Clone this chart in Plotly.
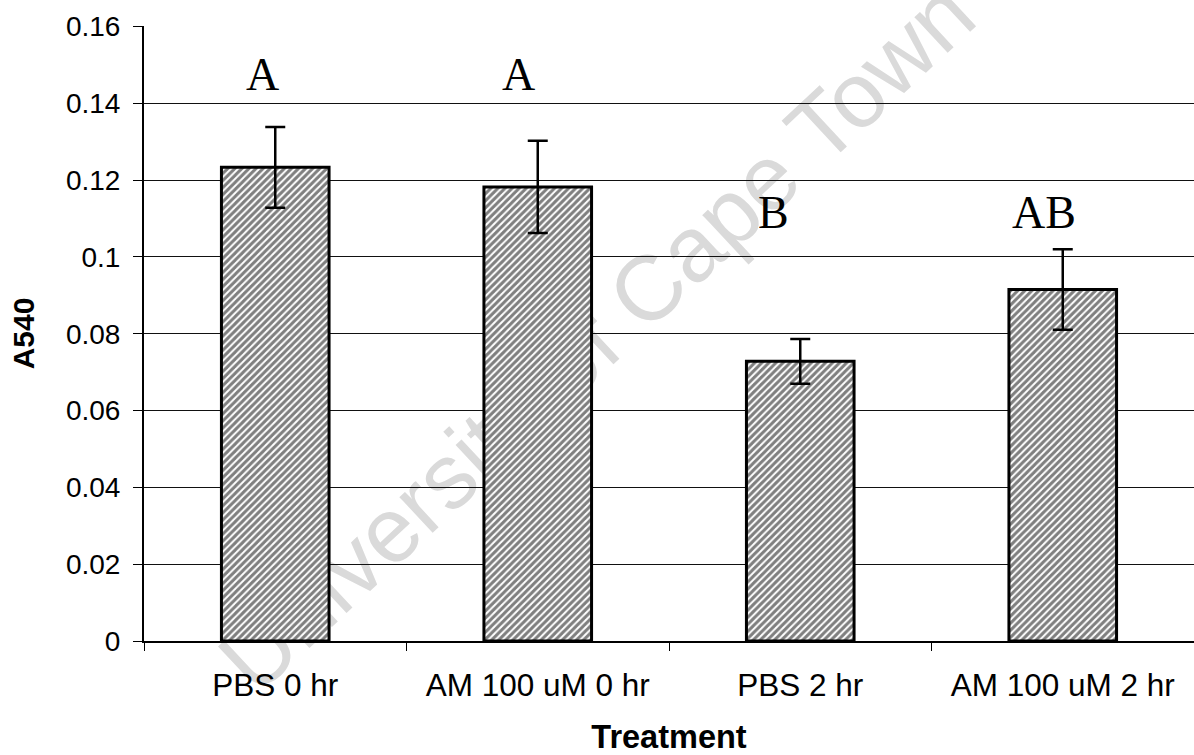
import plotly.graph_objects as go

# ---- data ----
categories = ["PBS 0 hr", "AM 100 uM 0 hr", "PBS 2 hr", "AM 100 uM 2 hr"]
a540_mean = [0.1233, 0.1182, 0.0728, 0.0915]
a540_err = [0.0105, 0.0120, 0.0058, 0.0105]
group_letters = ["A", "A", "B", "AB"]
letter_y = [0.1475, 0.1475, 0.1116, 0.1116]
y_ticks = [0, 0.02, 0.04, 0.06, 0.08, 0.10, 0.12, 0.14, 0.16]
y_tick_text = ["0", "0.02", "0.04", "0.06", "0.08", "0.1", "0.12", "0.14", "0.16"]
x_title = "Treatment"
y_title = "A540"
watermark = "University of Cape Town"

SANS = "Liberation Sans, Arial, Helvetica, sans-serif"
SERIF = "Liberation Serif, Times New Roman, serif"

fig = go.Figure(
    go.Bar(
        x=categories,
        y=a540_mean,
        width=0.41,
        marker=dict(
            color="white",
            line=dict(color="black", width=3),
            pattern=dict(shape="/", fgcolor="black", bgcolor="white", size=5, solidity=0.6),
        ),
        error_y=dict(type="data", array=a540_err, visible=True, color="black", thickness=2.5, width=10),
        showlegend=False,
    )
)

letter_xshift = [-13, -19, -27, -19]
for cat, lab, yy, dx in zip(categories, group_letters, letter_y, letter_xshift):
    fig.add_annotation(
        x=cat, y=yy, text=lab, showarrow=False, xshift=dx,
        xanchor="center", yanchor="middle",
        font=dict(family=SERIF, size=46, color="black"),
    )

# watermark, drawn beneath the bars
fig.add_shape(
    type="rect", xref="paper", yref="paper",
    x0=0.424, x1=0.426, y0=0.505, y1=0.507,
    line=dict(width=0), fillcolor="rgba(0,0,0,0)", layer="below",
    label=dict(text=watermark, textangle=-43, textposition="middle center",
               font=dict(family=SANS, size=92, color="#dadada")),
)

fig.update_layout(
    width=1194, height=755,
    margin=dict(l=144, r=0, t=26, b=114),
    paper_bgcolor="white", plot_bgcolor="white",
    showlegend=False,
    xaxis=dict(
        type="category",
        ticks="outside", tickson="boundaries", ticklen=8, tickcolor="black", tickwidth=1,
        showline=True, linecolor="black", linewidth=2,
        showgrid=False,
        tickfont=dict(family=SANS, size=31.5, color="black"),
        ticklabelstandoff=15,
        title=dict(text="<b>" + x_title + "</b>", font=dict(family=SANS, size=32.5, color="black"), standoff=26),
    ),
    yaxis=dict(
        range=[0, 0.1601],
        tickvals=y_ticks, ticktext=y_tick_text,
        ticks="outside", ticklen=9, tickcolor="black", tickwidth=1,
        showline=True, linecolor="black", linewidth=2,
        showgrid=True, gridcolor="#111111", gridwidth=1,
        zeroline=False,
        tickfont=dict(family=SANS, size=28, color="black"),
        ticklabelstandoff=7,
        title=dict(text="<b>" + y_title + "</b>", font=dict(family=SANS, size=30, color="black"), standoff=22),
    ),
)

fig.write_html("out.html")
